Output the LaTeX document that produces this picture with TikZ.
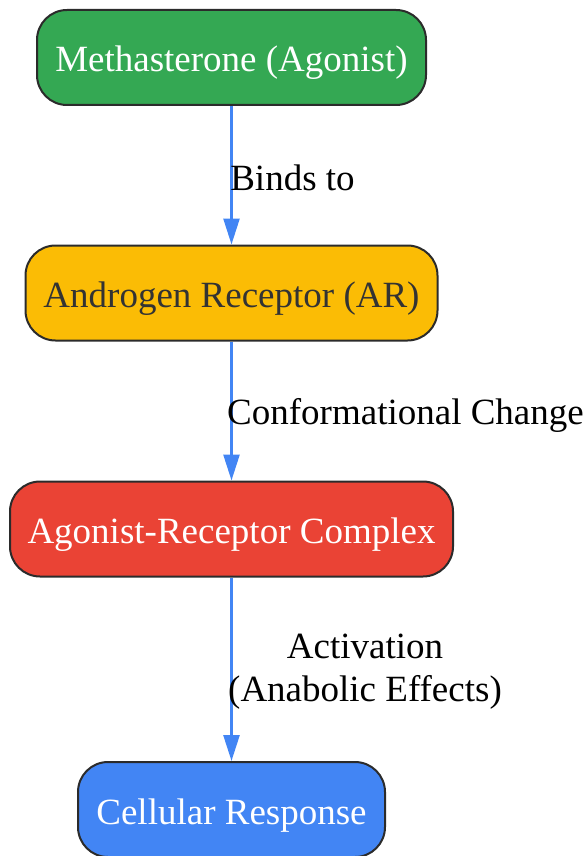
\documentclass[tikz,border=0pt]{standalone}
\usepackage{fontspec}
\setmainfont{Liberation Serif}
\usetikzlibrary{arrows.meta}
\definecolor{cgreen}{HTML}{34A853}
\definecolor{cyellow}{HTML}{FBBC05}
\definecolor{cred}{HTML}{EA4335}
\definecolor{cblue}{HTML}{4285F4}
\definecolor{cborder}{HTML}{2B2B2B}
\definecolor{cdark}{HTML}{333333}
\begin{document}
\begin{tikzpicture}[x=1pt,y=-1pt,
  box/.style={draw=cborder, line width=2pt, rounded corners=30pt, minimum height=95pt, inner sep=0pt, text height=32pt, text depth=3pt, font=\fontsize{37}{40}\selectfont},
  conn/.style={draw=cblue, line width=2.5pt, -{Triangle[width=16pt,length=26pt]}},
  lbl/.style={font=\fontsize{37}{43}\selectfont, align=center, inner sep=0pt}]
\useasboundingbox (0,0) rectangle (588,856);
\node[box, fill=cgreen, text=white, minimum width=389pt] (n1) at (231.5,57.5) {Methasterone (Agonist)};
\node[box, fill=cyellow, text=cdark, minimum width=412pt] (n2) at (231.5,293) {Androgen Receptor (AR)};
\node[box, fill=cred, text=white, minimum width=443pt] (n3) at (231.5,529) {Agonist-Receptor Complex};
\node[box, fill=cblue, text=white, minimum width=307pt] (n4) at (231.5,809.5) {Cellular Response};
\draw[conn] (n1.south) -- (n2.north);
\draw[conn] (n2.south) -- (n3.north);
\draw[conn] (n3.south) -- (n4.north);
\node[lbl] (l1) at (292.5,178) {Binds to};
\node[lbl] (l2) at (405.5,415) {Conformational Change};
\node[lbl] (l3) at (365,672) {Activation\\(Anabolic Effects)};
\end{tikzpicture}
\end{document}
